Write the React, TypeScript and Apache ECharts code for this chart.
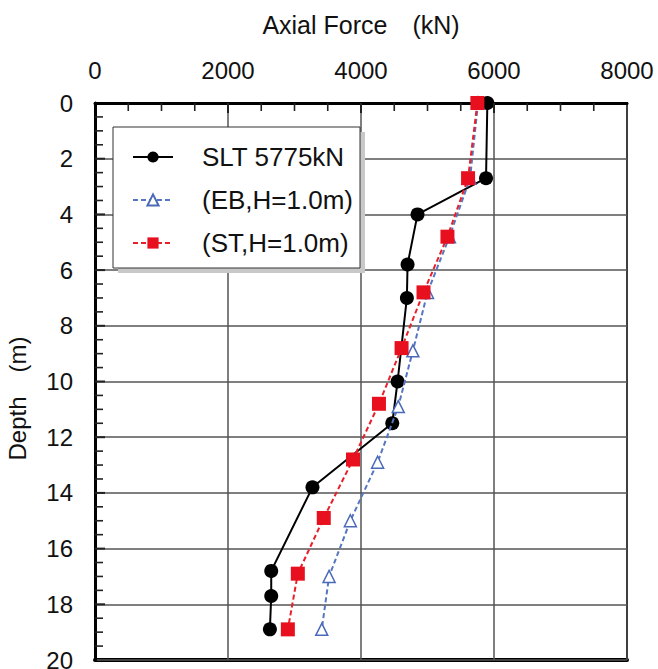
import React, { useEffect, useRef } from "react";
import * as echarts from "echarts";

const sltDepth = [0, 2.7, 4.0, 5.8, 7.0, 10.0, 11.5, 13.8, 16.8, 17.7, 18.9];
const sltForce = [5900, 5880, 4850, 4700, 4690, 4550, 4470, 3270, 2650, 2650, 2630];

const ebDepth = [0, 2.7, 4.8, 6.8, 8.9, 10.9, 12.9, 15.0, 17.0, 18.9];
const ebForce = [5760, 5640, 5330, 5000, 4780, 4560, 4250, 3840, 3520, 3410];

const stDepth = [0, 2.7, 4.8, 6.8, 8.8, 10.8, 12.8, 14.9, 16.9, 18.9];
const stForce = [5750, 5610, 5300, 4940, 4610, 4270, 3880, 3440, 3050, 2900];

const seriesNames = ["SLT 5775kN", "(EB,H=1.0m)", "(ST,H=1.0m)"];
const xTitle = "Axial Force\u3000(kN)";
const yTitle = "Depth\u3000(m)";

const X_MIN = 0;
const X_MAX = 8000;
const X_STEP = 2000;
const X_MINOR = 500;
const Y_MIN = 0;
const Y_MAX = 20;
const Y_STEP = 2;
const Y_MINOR = 0.5;

const GRID_LEFT = 95;
const GRID_RIGHT = 31;
const GRID_TOP = 103;
const GRID_BOTTOM = 9;
const W = 658;
const H = 669;

const FONT = "'Liberation Sans', Arial, sans-serif";

export default function App() {
  const ref = useRef<HTMLDivElement>(null);
  useEffect(() => {
    if (!ref.current) return;
    const chart = echarts.init(ref.current, undefined, { renderer: "svg" });
    const pair = (xs: number[], ys: number[]) => xs.map((x, i) => [x, ys[i]]);

    const plotW = W - GRID_LEFT - GRID_RIGHT;
    const plotH = H - GRID_TOP - GRID_BOTTOM;
    const xPx = (v: number) => GRID_LEFT + ((v - X_MIN) / (X_MAX - X_MIN)) * plotW;
    const yPx = (v: number) => GRID_TOP + ((v - Y_MIN) / (Y_MAX - Y_MIN)) * plotH;

    const tickRects: any[] = [];
    for (let v = X_MIN + X_MINOR; v < X_MAX; v += X_MINOR) {
      const major = v % X_STEP === 0;
      const len = major ? 10 : 8;
      const w = major ? 2 : 1.6;
      tickRects.push({
        type: "rect",
        z: 30,
        silent: true,
        shape: { x: xPx(v) - w / 2, y: GRID_TOP, width: w, height: len },
        style: { fill: "#222" },
      });
    }
    for (let v = Y_MIN + Y_MINOR; v < Y_MAX; v += Y_MINOR) {
      const major = Math.abs(v % Y_STEP) < 1e-9;
      const len = major ? 10 : 8;
      const w = major ? 2 : 1.6;
      tickRects.push({
        type: "rect",
        z: 30,
        silent: true,
        shape: { x: GRID_LEFT, y: yPx(v) - w / 2, width: len, height: w },
        style: { fill: "#222" },
      });
    }

    chart.setOption({
      animation: false,
      backgroundColor: "#fff",
      textStyle: { fontFamily: FONT },
      grid: {
        left: GRID_LEFT,
        right: GRID_RIGHT,
        top: GRID_TOP,
        bottom: GRID_BOTTOM,
        containLabel: false,
        outerBoundsMode: "none",
        show: true,
        borderColor: "#000",
        borderWidth: 2,
        backgroundColor: "transparent",
      },
      xAxis: [
        {
          type: "value",
          position: "top",
          min: X_MIN,
          max: X_MAX,
          interval: X_STEP,
          name: xTitle,
          nameLocation: "middle",
          nameGap: 66,
          nameTextStyle: { fontSize: 25, color: "#111", fontFamily: FONT },
          axisLine: { show: true, onZero: false, lineStyle: { color: "#000", width: 3 } },
          axisTick: { show: false },
          minorTick: { show: false },
          axisLabel: { fontSize: 24, color: "#111", margin: 21, fontFamily: FONT, formatter: (v: number) => String(v) },
          splitLine: { show: true, lineStyle: { color: "#555", width: 1.5 } },
          z: 3,
        },
        {
          type: "value",
          position: "bottom",
          min: X_MIN,
          max: X_MAX,
          interval: X_STEP,
          axisLine: { show: true, onZero: false, lineStyle: { color: "#000", width: 4 } },
          axisTick: { show: false },
          minorTick: { show: false },
          axisLabel: { show: false },
          splitLine: { show: false },
        },
      ],
      yAxis: {
        type: "value",
        inverse: true,
        min: Y_MIN,
        max: Y_MAX,
        interval: Y_STEP,
        name: yTitle,
        nameLocation: "middle",
        nameGap: 66,
        nameRotate: 90,
        nameTextStyle: { fontSize: 24, color: "#111", fontFamily: FONT, padding: [0, 34, 0, 0] },
        axisLine: { show: true, onZero: false, lineStyle: { color: "#000", width: 3 } },
        axisTick: { show: false },
        minorTick: { show: false },
        axisLabel: { fontSize: 24, color: "#111", margin: 22, fontFamily: FONT },
        splitLine: { show: true, lineStyle: { color: "#555", width: 1.5 } },
        z: 3,
      },
      legend: {
        orient: "vertical",
        left: 127,
        top: 139,
        itemWidth: 40,
        itemHeight: 14,
        itemGap: 17,
        data: seriesNames,
        textStyle: { fontSize: 26, color: "#111", fontFamily: FONT, padding: [0, 0, 0, 24] },
        z: 10,
      },
      graphic: [
        { type: "rect", z: 8, shape: { x: 118, y: 132, width: 247, height: 141 }, style: { fill: "#c8c8c8" } },
        { type: "rect", z: 9, shape: { x: 113, y: 127, width: 247, height: 141 }, style: { fill: "#fff", stroke: "#333", lineWidth: 1 } },
        ...tickRects,
      ],
      series: [
        {
          name: seriesNames[0],
          type: "line",
          data: pair(sltForce, sltDepth),
          symbol: "circle",
          symbolSize: 14,
          itemStyle: { color: "#000" },
          lineStyle: { color: "#000", width: 2 },
          z: 5,
        },
        {
          name: seriesNames[1],
          type: "line",
          data: pair(ebForce, ebDepth),
          symbol: "triangle",
          symbolSize: 12,
          itemStyle: { color: "#fff", borderColor: "#4a6ab8", borderWidth: 1.5 },
          lineStyle: { color: "#5576c0", width: 2, type: [5, 3] },
          z: 6,
        },
        {
          name: seriesNames[2],
          type: "line",
          data: pair(stForce, stDepth),
          symbol: "rect",
          symbolSize: 14,
          itemStyle: { color: "#e8101e" },
          lineStyle: { color: "#e8202a", width: 2, type: [5, 3] },
          z: 7,
        },
      ],
    });

    return () => chart.dispose();
  }, []);
  return <div ref={ref} style={{ width: W, height: H, position: "absolute", left: 0, top: 0 }} />;
}
